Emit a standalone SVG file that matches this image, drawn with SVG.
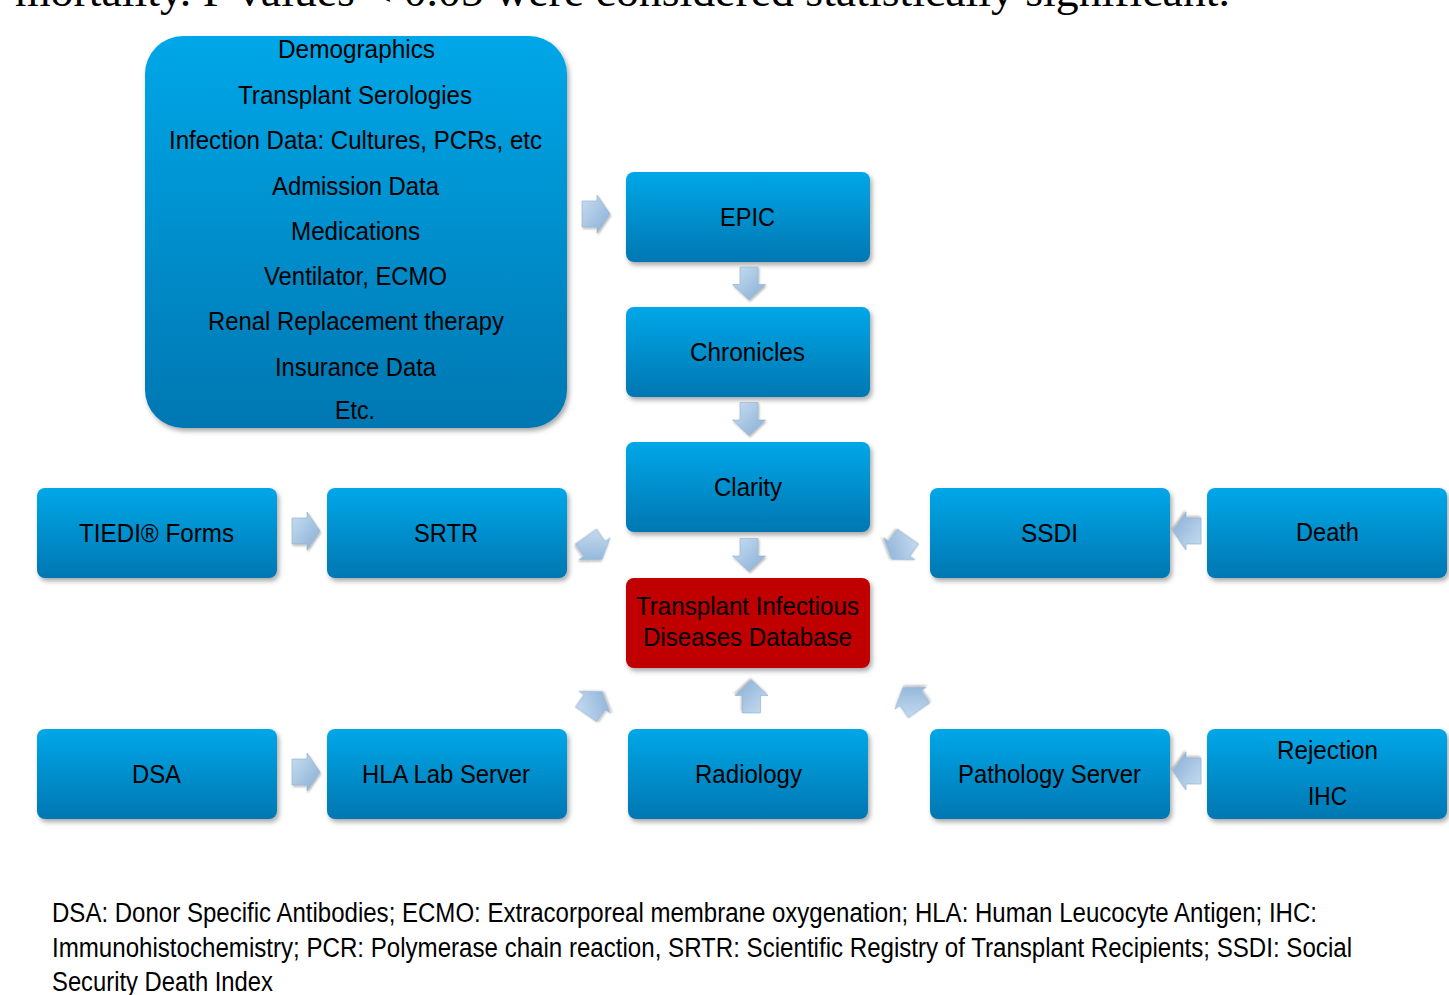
<svg xmlns="http://www.w3.org/2000/svg" width="1449" height="995" viewBox="0 0 1449 995">
<defs>
<linearGradient id="gBlue" x1="0" y1="0" x2="0" y2="1">
<stop offset="0" stop-color="#00a7e8"/>
<stop offset="1" stop-color="#0077b2"/>
</linearGradient>
<linearGradient id="gArr" x1="0" y1="0" x2="1" y2="1">
<stop offset="0" stop-color="#c9def2"/>
<stop offset="1" stop-color="#86add4"/>
</linearGradient>
<filter id="sh" x="-10%" y="-10%" width="125%" height="130%">
<feDropShadow dx="2" dy="3" stdDeviation="2.5" flood-color="#000" flood-opacity="0.35"/>
</filter>
<filter id="ash" x="-20%" y="-20%" width="150%" height="150%">
<feDropShadow dx="1" dy="1.5" stdDeviation="1" flood-color="#000" flood-opacity="0.3"/>
</filter>
<path id="arrH" d="M-14,-13 L1,-13 L1,-19 L14,0 L1,19 L1,13 L-14,13 Z"/>
<path id="arrV" d="M-9,-16.5 L9,-16.5 L9,1 L16.5,1 L0,16.5 L-16.5,1 L-9,1 Z"/>
</defs>
<style>
.box{fill:url(#gBlue);filter:url(#sh);}
.red{fill:#c00000;filter:url(#sh);}
.t{font-family:"Liberation Sans",Arial,sans-serif;font-size:26px;fill:#000;}
.tb{font-family:"Liberation Sans",Arial,sans-serif;font-size:25px;fill:#000;}
.lg{font-family:"Liberation Sans",Arial,sans-serif;font-size:27px;fill:#000;}
.top{font-family:"Liberation Serif","Times New Roman",serif;font-size:44px;fill:#000;}
.arr{fill:url(#gArr);stroke:#8fb0cf;stroke-width:0.6;filter:url(#ash);}
</style>
<rect width="1449" height="995" fill="#fff"/>

<text class="top" x="15" y="6" textLength="1215" lengthAdjust="spacingAndGlyphs">mortality. P values &lt; 0.05 were considered statistically significant.</text>

<g id="sources">
<rect class="box" x="145" y="36" width="422" height="392" rx="38"/>
<text class="tb" x="278" y="58" textLength="157" lengthAdjust="spacingAndGlyphs">Demographics</text>
<text class="tb" x="238" y="104" textLength="234" lengthAdjust="spacingAndGlyphs">Transplant Serologies</text>
<text class="tb" x="169" y="149" textLength="373" lengthAdjust="spacingAndGlyphs">Infection Data: Cultures, PCRs, etc</text>
<text class="tb" x="272" y="195" textLength="167" lengthAdjust="spacingAndGlyphs">Admission Data</text>
<text class="tb" x="291" y="240" textLength="129" lengthAdjust="spacingAndGlyphs">Medications</text>
<text class="tb" x="264" y="285" textLength="183" lengthAdjust="spacingAndGlyphs">Ventilator, ECMO</text>
<text class="tb" x="208" y="330" textLength="296" lengthAdjust="spacingAndGlyphs">Renal Replacement therapy</text>
<text class="tb" x="275" y="376" textLength="161" lengthAdjust="spacingAndGlyphs">Insurance Data</text>
<text class="tb" x="335" y="419" textLength="40" lengthAdjust="spacingAndGlyphs">Etc.</text>
</g>

<g id="epic">
<rect class="box" x="626" y="172" width="244" height="90" rx="8"/>
<text class="t" x="720" y="226" textLength="55" lengthAdjust="spacingAndGlyphs">EPIC</text>
</g>
<g id="chronicles">
<rect class="box" x="626" y="307" width="244" height="90" rx="8"/>
<text class="t" x="690" y="361" textLength="115" lengthAdjust="spacingAndGlyphs">Chronicles</text>
</g>
<g id="clarity">
<rect class="box" x="626" y="442" width="244" height="90" rx="8"/>
<text class="t" x="714" y="496" textLength="68" lengthAdjust="spacingAndGlyphs">Clarity</text>
</g>
<g id="tidb">
<rect class="red" x="626" y="578" width="244" height="90" rx="8"/>
<text class="t" x="636" y="615" textLength="223" lengthAdjust="spacingAndGlyphs">Transplant Infectious</text>
<text class="t" x="643" y="646" textLength="209" lengthAdjust="spacingAndGlyphs">Diseases Database</text>
</g>
<g id="tiedi">
<rect class="box" x="37" y="488" width="240" height="90" rx="8"/>
<text class="t" x="79" y="542" textLength="155" lengthAdjust="spacingAndGlyphs">TIEDI® Forms</text>
</g>
<g id="srtr">
<rect class="box" x="327" y="488" width="240" height="90" rx="8"/>
<text class="t" x="414" y="542" textLength="64" lengthAdjust="spacingAndGlyphs">SRTR</text>
</g>
<g id="ssdi">
<rect class="box" x="930" y="488" width="240" height="90" rx="8"/>
<text class="t" x="1021" y="542" textLength="57" lengthAdjust="spacingAndGlyphs">SSDI</text>
</g>
<g id="death">
<rect class="box" x="1207" y="488" width="240" height="90" rx="8"/>
<text class="t" x="1296" y="541" textLength="63" lengthAdjust="spacingAndGlyphs">Death</text>
</g>
<g id="dsa">
<rect class="box" x="37" y="729" width="240" height="90" rx="8"/>
<text class="t" x="132" y="783" textLength="49" lengthAdjust="spacingAndGlyphs">DSA</text>
</g>
<g id="hla">
<rect class="box" x="327" y="729" width="240" height="90" rx="8"/>
<text class="t" x="362" y="783" textLength="168" lengthAdjust="spacingAndGlyphs">HLA Lab Server</text>
</g>
<g id="radiology">
<rect class="box" x="628" y="729" width="240" height="90" rx="8"/>
<text class="t" x="695" y="783" textLength="107" lengthAdjust="spacingAndGlyphs">Radiology</text>
</g>
<g id="pathology">
<rect class="box" x="930" y="729" width="240" height="90" rx="8"/>
<text class="t" x="958" y="783" textLength="183" lengthAdjust="spacingAndGlyphs">Pathology Server</text>
</g>
<g id="rejection">
<rect class="box" x="1207" y="729" width="240" height="90" rx="8"/>
<text class="t" x="1277" y="759" textLength="101" lengthAdjust="spacingAndGlyphs">Rejection</text>
<text class="t" x="1308" y="805" textLength="39" lengthAdjust="spacingAndGlyphs">IHC</text>
</g>

<g id="connectors">
<use href="#arrH" class="arr" transform="translate(596,214)"/>
<use href="#arrV" class="arr" transform="translate(749,283.5)"/>
<use href="#arrV" class="arr" transform="translate(749,419)"/>
<use href="#arrV" class="arr" transform="translate(749,555)"/>
<use href="#arrV" class="arr" transform="translate(751.5,696.5) rotate(180)"/>
<use href="#arrH" class="arr" transform="translate(306,531)"/>
<use href="#arrH" class="arr" transform="translate(306,772)"/>
<use href="#arrH" class="arr" transform="translate(1187,531) rotate(180)"/>
<use href="#arrH" class="arr" transform="translate(1187,771) rotate(180)"/>
<use href="#arrH" class="arr" transform="translate(594,548) rotate(55)"/>
<use href="#arrH" class="arr" transform="translate(900,548) rotate(125)"/>
<use href="#arrH" class="arr" transform="translate(594,703) rotate(-55)"/>
<use href="#arrH" class="arr" transform="translate(911,699) rotate(-125)"/>
</g>

<g id="legend">
<text class="lg" x="52" y="922" textLength="1265" lengthAdjust="spacingAndGlyphs">DSA: Donor Specific Antibodies; ECMO: Extracorporeal membrane oxygenation; HLA: Human Leucocyte Antigen; IHC:</text>
<text class="lg" x="52" y="957" textLength="1300" lengthAdjust="spacingAndGlyphs">Immunohistochemistry; PCR: Polymerase chain reaction, SRTR: Scientific Registry of Transplant Recipients; SSDI: Social</text>
<text class="lg" x="52" y="991" textLength="221" lengthAdjust="spacingAndGlyphs">Security Death Index</text>
</g>
</svg>
